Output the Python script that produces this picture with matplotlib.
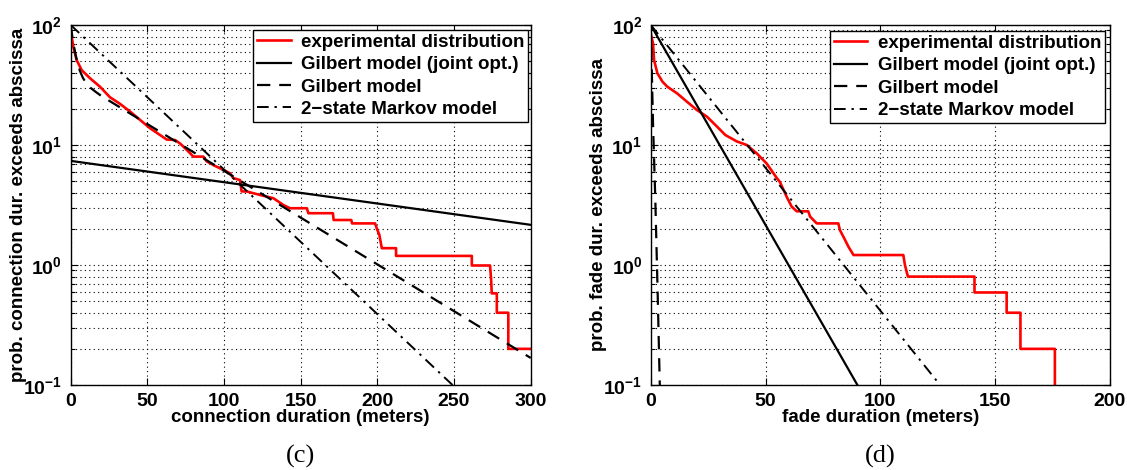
import matplotlib
matplotlib.use("Agg")
import matplotlib.pyplot as plt
from matplotlib.ticker import LogLocator, NullFormatter, FixedLocator

# (c) connection duration, metres vs. probability (%)
conn_exp_x = [0, 1.7, 3.9, 7.2, 12.6, 19.1, 25.6, 32.2, 38.7, 45.2, 51.7, 58.3, 62.6, 68,
              71.3, 75.7, 80, 86.5, 88.7, 94, 99.6, 104, 106, 110.4, 111.5, 114.8, 123.5,
              132.2, 138.7, 143, 154, 155, 171, 171.5, 183, 183.5, 198.5, 199.6, 201.3,
              202.9, 212.2, 212.2, 261.6, 261.6, 273.5, 274.2, 274.6, 277.9, 277.9, 285.4,
              285.4, 300]
conn_exp_y = [91, 66, 51, 42, 36, 30.6, 25, 22, 19, 16.2, 13.8, 12.1, 11.1, 11,
              10.3, 9.1, 8.0, 8.0, 7.3, 6.7, 6.2, 5.8, 5.3, 5.1, 4.1, 4.1, 3.83,
              3.6, 3.16, 2.97, 2.97, 2.7, 2.7, 2.37, 2.37, 2.22, 2.22, 2.02, 1.78,
              1.38, 1.38, 1.19, 1.19, 0.99, 0.99, 0.75, 0.58, 0.58, 0.40, 0.40,
              0.20, 0.20]
conn_joint_x = [0, 0.3, 300]
conn_joint_y = [100, 7.36, 2.16]
conn_gilbert_x = [0, 1, 2, 3, 4, 6, 8, 10, 13, 16, 20, 300]
conn_gilbert_y = [100, 81.4, 67.9, 58.0, 50.8, 41.5, 36.2, 33.0, 29.9, 27.9, 25.6, 0.168]
conn_markov_x = [0, 249]
conn_markov_y = [100, 0.1]

# (d) fade duration
fade_exp_x = [0, 1.0, 1.45, 2.9, 5.1, 7.2, 11.5, 15.8, 20.2, 24.5, 28.9, 32.5, 37.5, 41.8,
              46.2, 50.5, 54.9, 56.3, 59.2, 61.4, 63.6, 68.6, 69.4, 72.3, 81.7, 82.4, 84.6,
              86.1, 88.3, 110, 110.7, 112, 141, 141, 155, 155, 161, 161, 176, 176]
fade_exp_y = [85, 70, 51, 39.6, 33.7, 30.6, 26.9, 22.9, 19.5, 17.2, 14.2, 12.1, 10.7, 10,
              8.5, 7.0, 5.3, 4.9, 3.7, 3.06, 2.8, 2.8, 2.53, 2.22, 2.22, 1.95, 1.62,
              1.42, 1.21, 1.21, 1.0, 0.8, 0.8, 0.59, 0.59, 0.40, 0.40, 0.20, 0.20, 0.05]
fade_joint_x = [0, 90]
fade_joint_y = [100, 0.1]
fade_gilbert_x = [0, 1.0, 2.0, 3.0, 4.0]
fade_gilbert_y = [100, 15, 3.5, 0.6, 0.09]
fade_markov_x = [0, 126]
fade_markov_y = [100, 0.1]

legend_labels = ["experimental distribution", "Gilbert model (joint opt.)",
                 "Gilbert model", "2\u2212state Markov model"]

plt.rcParams["font.family"] = ["Liberation Sans", "DejaVu Sans"]
plt.rcParams["font.weight"] = "bold"
plt.rcParams["mathtext.fontset"] = "custom"
plt.rcParams["mathtext.rm"] = "Liberation Sans:bold"
plt.rcParams["mathtext.bf"] = "Liberation Sans:bold"
plt.rcParams["mathtext.it"] = "Liberation Sans:bold"

FS = 13.5

fig = plt.figure(figsize=(11.27, 4.70), dpi=100)
ax1 = fig.add_axes([0.0627, 0.1809, 0.4082, 0.766])
ax2 = fig.add_axes([0.5774, 0.1809, 0.4075, 0.766])


def draw_panel(ax, exp, joint, gil, mar, xmax, xticks, xlabel, ylabel, leg_anchor):
    ax.plot(exp[0], exp[1], color="red", lw=1.9)
    ax.plot(joint[0], joint[1], color="black", lw=1.6)
    ax.plot(gil[0], gil[1], color="black", lw=1.6, dashes=(6, 4))
    ax.plot(mar[0], mar[1], color="black", lw=1.4, dashes=(6, 3, 1.2, 3))
    ax.set_yscale("log")
    ax.set_ylim(0.1, 100)
    ax.set_xlim(0, xmax)
    ax.xaxis.set_major_locator(FixedLocator(xticks))
    ax.yaxis.set_major_locator(LogLocator(base=10))
    ax.yaxis.set_minor_locator(LogLocator(base=10, subs=range(2, 10)))
    ax.yaxis.set_minor_formatter(NullFormatter())
    ax.grid(True, which="major", color="black", lw=0.8, linestyle=(0, (1, 3)))
    ax.grid(True, which="minor", axis="y", color="black", lw=0.8, linestyle=(0, (1, 3)))
    ax.tick_params(which="both", direction="in", top=True, right=True,
                   labelsize=14, width=0.8)
    ax.tick_params(which="major", length=5, pad=6)
    ax.tick_params(which="minor", length=3)
    for lab in ax.get_xticklabels() + ax.get_yticklabels():
        lab.set_fontweight("bold")
    for sp in ax.spines.values():
        sp.set_linewidth(1.0)
    ax.set_xlabel(xlabel, fontsize=FS, fontweight="bold")
    ax.set_ylabel(ylabel, fontsize=FS, fontweight="bold")
    ax.xaxis.set_label_coords(0.5, -0.066)
    ax.yaxis.set_label_coords(-0.095, 0.5)
    leg = ax.legend(legend_labels, loc="upper right", bbox_to_anchor=leg_anchor,
                    borderaxespad=0, fancybox=False, framealpha=1, edgecolor="black",
                    prop={"size": FS, "weight": "bold"}, handlelength=1.8,
                    handletextpad=0.55, labelspacing=0.28, borderpad=0.2)
    leg.get_frame().set_linewidth(1.0)


draw_panel(ax1, (conn_exp_x, conn_exp_y), (conn_joint_x, conn_joint_y),
           (conn_gilbert_x, conn_gilbert_y), (conn_markov_x, conn_markov_y),
           300, [0, 50, 100, 150, 200, 250, 300], "connection duration (meters)",
           "prob. connection dur. exceeds abscissa", (0.994, 0.986))
draw_panel(ax2, (fade_exp_x, fade_exp_y), (fade_joint_x, fade_joint_y),
           (fade_gilbert_x, fade_gilbert_y), (fade_markov_x, fade_markov_y),
           200, [0, 50, 100, 150, 200], "fade duration (meters)",
           "prob. fade dur. exceeds abscissa", (0.989, 0.983))

fig.text(300.7 / 1127, 1 - 456 / 470, "(c)", family=["Liberation Serif", "DejaVu Serif"],
         fontsize=19, fontweight="normal", ha="center", va="center")
fig.text(880 / 1127, 1 - 456 / 470, "(d)", family=["Liberation Serif", "DejaVu Serif"],
         fontsize=19, fontweight="normal", ha="center", va="center")

fig.savefig("out.png", dpi=100)
